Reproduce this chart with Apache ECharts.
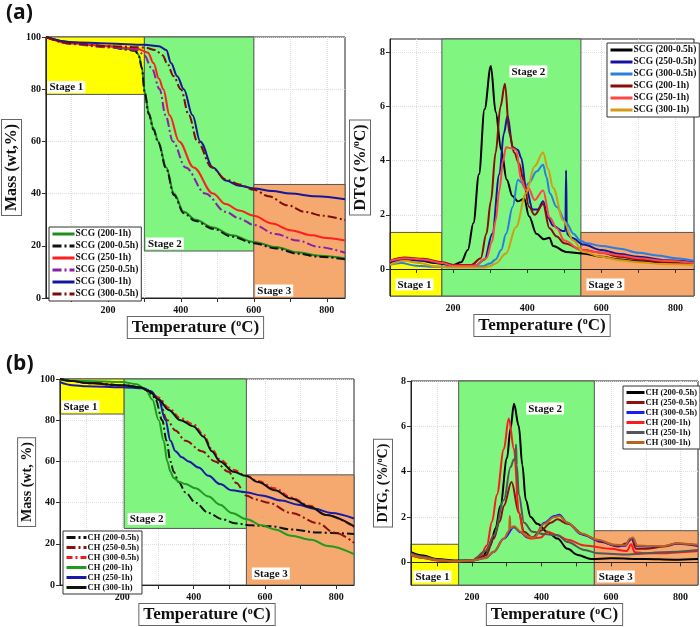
<!DOCTYPE html>
<html>
<head>
<meta charset="utf-8">
<script src="https://cdn.jsdelivr.net/npm/echarts@6/dist/echarts.min.js"></script>
<style>
  html, body { margin: 0; padding: 0; background: #fff; }
  #chart { width: 700px; height: 627px; }
</style>
</head>
<body>
<div id="chart"></div>
<script>
// ---- data: [temperature °C, value] ----
// (a) TGA, mass %
const aTga200_1h = [[30,100],[100,98],[150,97],[200,96.5],[250,95.5],[275,95],[285,93],[293,88.5],[301,79],[312,71],[325,65],[338,60],[360,50],[381,40],[408,33],[440,30],[488,27],[540,24],[600,21.5],[660,19.5],[720,17.5],[780,16.2],[850,15.2]];
const aTga200_05h = [[30,100],[100,97.8],[150,96.8],[200,96.3],[250,95.2],[275,94.7],[285,92.5],[293,88],[301,78.5],[312,70.5],[325,64.5],[338,59.5],[360,49.5],[381,39.5],[408,32.5],[440,29.5],[488,26.5],[540,23.5],[600,21],[660,19],[720,17],[780,15.8],[850,14.8]];
const aTga250_1h = [[30,100],[100,97.5],[200,96.5],[280,95.5],[310,94],[325,90],[340,84],[352,80],[369,70],[395,60],[435,50],[488,40],[523,36],[560,33.5],[600,31.5],[650,28.5],[700,26],[760,24],[800,23],[850,22]];
const aTga250_05h = [[30,100],[100,97.3],[200,96],[280,95],[300,93],[320,88],[342,80],[358,70],[378,60],[413,50],[467,40],[523,33],[560,30.5],[600,28],[660,24.5],[720,22],[780,19.5],[850,17.3]];
const aTga300_1h = [[30,100],[100,98],[200,97.5],[300,97],[340,96.5],[360,95],[373,90],[390,85],[408,80],[432,70],[453,60],[488,50],[523,45],[560,43],[600,42],[650,41],[700,40],[770,39],[850,37.8]];
const aTga300_05h = [[30,100],[100,97.5],[200,96.5],[300,96],[330,95],[350,93],[362,90],[380,85],[400,80],[422,70],[445,60],[485,50],[523,45.5],[560,43.5],[600,41.5],[640,39],[693,35.5],[740,33],[790,31.5],[850,29.8]];

// (a) DTG, %/°C
const aDtg200_05h = [[30,0.3],[60,0.38],[100,0.35],[150,0.22],[200,0.15],[222,0.25],[240,0.7],[255,1.7],[270,3.5],[285,5.9],[302,7.5],[315,5.8],[330,4.4],[345,3.3],[360,2.7],[375,2.5],[392,2.6],[405,1.95],[425,1.3],[445,1.1],[460,1.15],[470,0.85],[505,0.63],[550,0.57],[600,0.45],[650,0.35],[700,0.28],[770,0.22],[850,0.2]];
const aDtg250_05h = [[30,0.25],[70,0.35],[120,0.3],[170,0.2],[200,0.12],[260,0.12],[285,0.35],[306,1.3],[325,3.5],[337,5.0],[347,5.65],[361,4.5],[375,4.4],[384,4.1],[397,3.0],[415,2.2],[429,2.2],[443,2.5],[456,1.9],[470,1.6],[495,1.4],[503,1.4],[505,3.65],[507,1.3],[520,1.15],[552,0.9],[600,0.7],[650,0.55],[700,0.45],[775,0.32],[850,0.25]];
const aDtg300_05h = [[30,0.15],[60,0.22],[100,0.12],[150,0.08],[200,0.08],[280,0.1],[300,0.2],[315,0.35],[330,0.7],[343,1.3],[361,2.3],[375,3.3],[385,3.2],[393,3.0],[406,3.2],[425,3.6],[443,3.85],[452,3.4],[461,2.8],[479,2.3],[506,1.7],[525,1.3],[543,1.05],[560,0.95],[600,0.85],[650,0.75],[700,0.6],[750,0.5],[800,0.4],[850,0.3]];
const aDtg200_1h = [[30,0.3],[70,0.42],[120,0.38],[170,0.25],[200,0.15],[250,0.15],[275,0.4],[290,1.3],[302,2.5],[315,4.3],[328,6.0],[340,6.85],[352,5.0],[365,4.3],[378,3.9],[390,3.3],[405,2.3],[420,2.0],[443,2.4],[460,1.5],[480,1.2],[500,0.95],[550,0.7],[600,0.6],[650,0.45],[700,0.35],[770,0.25],[850,0.2]];
const aDtg250_1h = [[30,0.3],[70,0.4],[120,0.35],[170,0.22],[200,0.12],[260,0.12],[290,0.4],[305,1.0],[315,1.8],[325,2.9],[335,4.0],[343,4.5],[360,4.45],[370,4.4],[384,3.3],[397,2.9],[403,3.0],[420,2.55],[443,2.9],[461,1.9],[480,1.5],[500,1.05],[545,0.7],[600,0.6],[650,0.5],[700,0.4],[770,0.3],[850,0.22]];
const aDtg300_1h = [[30,0.15],[70,0.3],[110,0.22],[150,0.1],[200,0.05],[280,0.05],[300,0.1],[315,0.2],[343,0.57],[370,1.55],[397,2.8],[420,3.8],[443,4.3],[456,3.7],[470,3.0],[497,1.8],[524,1.05],[552,0.63],[600,0.45],[650,0.32],[700,0.25],[770,0.18],[850,0.15]];

// (b) TGA, mass %
const bTga200_05h = [[25,100],[60,99],[100,98.5],[200,97],[250,96],[270,94.5],[285,92],[293,90],[312,80],[324,70],[335,60],[344,55],[358,50],[377,45],[405,40],[442,35],[479,32],[516,30],[563,29],[619,28.5],[674,27],[749,25.5],[850,24.8]];
const bTga250_05h = [[25,100],[60,99],[100,98],[200,97],[250,96],[275,94],[302,90],[326,80],[349,75],[377,70],[423,65],[460,60],[498,55],[520,49.5],[547,43.5],[575,41.5],[609,40],[674,35],[749,30],[795,25.5],[850,20.5]];
const bTga300_05h = [[25,100],[60,99],[100,98],[200,97],[250,96],[275,94.5],[302,91],[330,86],[363,81],[400,78],[428,73],[451,66],[474,61],[512,56],[547,53],[581,50.5],[628,47],[674,42.5],[726,38.5],[772,34],[850,28]];
const bTga200_1h = [[25,99.5],[100,99],[200,98.5],[240,97.5],[265,95],[284,90],[302,80],[316,70],[326,60],[335,55],[344,52],[360,50],[377,49],[405,47],[442,43],[474,39],[507,35],[549,32],[591,29],[628,27],[674,24],[730,22],[777,19],[850,15]];
const bTga250_1h = [[25,98.5],[60,97],[100,96.5],[200,96],[260,95.5],[280,94],[302,90],[321,80],[335,70],[349,65],[367,62],[386,60],[414,57],[442,53],[474,49],[507,46],[547,45],[591,43.5],[647,41],[693,39],[740,37],[786,35],[850,32.3]];
const bTga300_1h = [[25,100],[60,99],[100,98],[200,97],[250,96],[275,94],[302,90],[330,85],[363,80],[400,77],[428,72],[451,65],[474,60],[512,55],[547,53],[581,50],[628,46],[674,42],[726,38],[772,34],[850,28.5]];

// (b) DTG, %/°C
const bDtg200_05h = [[25,0.45],[60,0.3],[100,0.15],[150,0.08],[200,0.08],[230,0.25],[253,0.75],[268,1.5],[282,2.5],[301,4.6],[311,5.9],[321,7.0],[335,6.0],[345,4.3],[355,2.75],[369,2.0],[388,1.7],[417,1.35],[446,1.05],[475,0.6],[504,0.33],[543,0.15],[600,0.18],[700,0.15],[780,0.12],[850,0.15]];
const bDtg250_05h = [[25,0.4],[60,0.25],[100,0.12],[150,0.05],[200,0.08],[240,0.3],[263,1.05],[280,1.8],[292,2.5],[314,3.55],[335,2.2],[350,1.35],[374,1.1],[398,1.4],[427,1.75],[446,1.9],[475,1.7],[524,1.2],[572,0.9],[620,0.7],[645,0.85],[659,1.05],[672,0.6],[700,0.6],[750,0.7],[790,0.82],[850,0.72]];
const bDtg300_05h = [[25,0.35],[60,0.2],[100,0.1],[150,0.05],[200,0.08],[240,0.2],[263,0.47],[292,1.05],[321,1.55],[340,1.33],[359,1.1],[379,1.1],[408,1.75],[437,2.05],[451,2.1],[475,1.75],[514,1.25],[562,0.97],[611,0.75],[640,0.72],[655,1.0],[663,1.05],[675,0.72],[712,0.7],[750,0.72],[789,0.83],[850,0.75]];
const bDtg200_1h = [[25,0.3],[60,0.2],[100,0.08],[150,0.05],[200,0.08],[225,0.3],[243,0.75],[258,1.8],[272,3.0],[292,5.0],[306,6.35],[321,5.0],[335,2.2],[350,1.2],[369,1.05],[398,1.1],[417,1.35],[446,1.2],[475,1.0],[524,0.75],[600,0.6],[645,0.5],[658,0.8],[668,0.45],[700,0.4],[750,0.4],[800,0.45],[850,0.5]];
const bDtg250_1h = [[25,0.4],[60,0.25],[100,0.12],[150,0.05],[200,0.08],[240,0.5],[263,1.2],[292,2.75],[311,4.2],[321,4.55],[325,4.5],[327,5.2],[329,4.3],[335,3.0],[350,1.75],[374,1.35],[408,1.25],[446,1.2],[475,0.9],[524,0.55],[562,0.4],[650,0.35],[750,0.45],[850,0.55]];
const bDtg300_1h = [[25,0.35],[60,0.2],[100,0.1],[150,0.05],[200,0.08],[240,0.2],[263,0.47],[292,1.05],[307,1.4],[309,2.05],[311,1.5],[321,1.6],[340,1.35],[359,1.15],[379,1.1],[408,1.7],[437,2.0],[451,2.05],[475,1.75],[514,1.28],[562,1.0],[611,0.78],[640,0.75],[655,1.05],[663,1.1],[675,0.75],[712,0.72],[750,0.72],[789,0.85],[850,0.78]];

// tick labels
const tempLabels = [200, 400, 600, 800];
const tempTicks = [100, 200, 300, 400, 500, 600, 700, 800];
const massLabels = [0, 20, 40, 60, 80, 100];
const dtgLabels = [0, 2, 4, 6, 8];

// stage boxes: [xFrom, xTo, yFrom, yTo]
const aTgaStages = [[30, 300, 78, 100], [300, 600, 18, 100], [600, 850, 0, 43.5]];
const aDtgStages = [[30, 170, -1, 1.35], [170, 545, -1, 8.5], [545, 850, -1, 1.35]];
const bTgaStages = [[25, 205, 83, 100], [205, 548, 27.5, 100], [548, 850, 0, 53.5]];
const bDtgStages = [[25, 162, -1, 0.8], [162, 552, -1, 8], [552, 850, -1, 1.4]];

const SERIF = '"Liberation Serif", "DejaVu Serif", serif';
const stageColors = ['#ffff00', '#80f580', '#f5a96e'];

const chart = echarts.init(document.getElementById('chart'), null, { renderer: 'canvas' });

function xAxisFor(gi, min, max, gap) {
  return {
    gridIndex: gi, type: 'value', min, max,
    axisLine: { show: true, lineStyle: { color: '#222', width: 1 } },
    axisTick: { customValues: tempTicks, length: 4, lineStyle: { color: '#333' } },
    axisLabel: { customValues: tempLabels, fontFamily: SERIF, fontWeight: 'bold', fontSize: 10, color: '#111', margin: 7 },
    splitLine: { show: true, lineStyle: { color: '#dcdcdc', type: 'dotted' } },
    name: '{t|Temperature (}{s|o}{t|C)}',
    nameLocation: 'middle', nameGap: gap,
    nameTextStyle: {
      borderColor: '#666', borderWidth: 1, padding: [2, 4, 1, 4], backgroundColor: '#fff',
      rich: {
        t: { fontFamily: SERIF, fontWeight: 'bold', fontSize: 17, color: '#111' },
        s: { fontFamily: SERIF, fontWeight: 'bold', fontSize: 10, color: '#111', verticalAlign: 'top', padding: [0, 0, 8, 0] }
      }
    }
  };
}

function yAxisFor(gi, min, max, ticks, labels, name, gap, size) {
  return {
    gridIndex: gi, type: 'value', min, max,
    axisLine: { show: true, lineStyle: { color: '#222', width: 1 } },
    axisTick: { customValues: ticks, length: 4, lineStyle: { color: '#333' } },
    axisLabel: { customValues: labels, fontFamily: SERIF, fontWeight: 'bold', fontSize: 10, color: '#111', margin: 5 },
    splitLine: { show: true, lineStyle: { color: '#dcdcdc', type: 'dotted' } },
    name, nameLocation: 'middle', nameGap: gap,
    nameTextStyle: {
      borderColor: '#666', borderWidth: 1, padding: [2, 4, 1, 4], backgroundColor: '#fff',
      rich: {
        t: { fontFamily: SERIF, fontWeight: 'bold', fontSize: size, color: '#111' },
        s: { fontFamily: SERIF, fontWeight: 'bold', fontSize: size * 0.6, color: '#111', verticalAlign: 'top', padding: [0, 0, 7, 0] }
      }
    }
  };
}

function stageArea(boxes, labelOpts) {
  return {
    silent: true,
    z: 0,
    data: boxes.map((b, i) => [
      {
        name: 'Stage ' + (i + 1), xAxis: b[0], yAxis: b[2],
        itemStyle: { color: stageColors[i], borderColor: '#555', borderWidth: 1, opacity: 1 },
        label: Object.assign({
          show: true, color: '#111', fontFamily: SERIF, fontWeight: 'bold', fontSize: 11,
          backgroundColor: '#fff', padding: [1, 2, 0, 2]
        }, labelOpts[i])
      },
      { xAxis: b[1], yAxis: b[3] }
    ])
  };
}

function line(name, data, color, gi, dash, width) {
  return {
    type: 'line', name, data, xAxisIndex: gi, yAxisIndex: gi,
    symbol: 'none', smooth: 0.35, smoothMonotone: 'x',
    lineStyle: { color, width: width || 2, type: dash || 'solid' },
    itemStyle: { color },
    emphasis: { disabled: true }, animation: false
  };
}

const dashDot = [9, 3, 2, 3];
const zw = '\u200b';

const series = [
  // (a) TGA
  line('SCG (200-1h)', aTga200_1h, '#1e8c1e', 0),
  line('SCG (200-0.5h)', aTga200_05h, '#111111', 0, dashDot),
  line('SCG (250-1h)', aTga250_1h, '#ff1f1f', 0),
  line('SCG (250-0.5h)', aTga250_05h, '#8a1fa8', 0, dashDot),
  line('SCG (300-1h)', aTga300_1h, '#16169a', 0),
  line('SCG (300-0.5h)', aTga300_05h, '#7a0c0c', 0, dashDot),
  // (a) DTG
  line('SCG (200-0.5h)' + zw, aDtg200_05h, '#000000', 1),
  line('SCG (250-0.5h)' + zw, aDtg250_05h, '#1414a0', 1),
  line('SCG (300-0.5h)' + zw, aDtg300_05h, '#2a7ee0', 1),
  line('SCG (200-1h)' + zw, aDtg200_1h, '#8b0a0a', 1),
  line('SCG (250-1h)' + zw, aDtg250_1h, '#ff4646', 1),
  line('SCG (300-1h)' + zw, aDtg300_1h, '#d49a12', 1),
  // (b) TGA
  line('CH (200-0.5h)', bTga200_05h, '#111111', 2, dashDot),
  line('CH (250-0.5h)', bTga250_05h, '#8b1010', 2, dashDot),
  line('CH (300-0.5h)', bTga300_05h, '#ee1c1c', 2, [6, 3, 2, 3]),
  line('CH (200-1h)', bTga200_1h, '#229a22', 2),
  line('CH (250-1h)', bTga250_1h, '#1a1aa8', 2),
  line('CH (300-1h)', bTga300_1h, '#111111', 2),
  // (b) DTG
  line('CH (200-0.5h)' + zw, bDtg200_05h, '#000000', 3),
  line('CH (250-0.5h)' + zw, bDtg250_05h, '#8b1010', 3),
  line('CH (300-0.5h)' + zw, bDtg300_05h, '#1a1aff', 3),
  line('CH (200-1h)' + zw, bDtg200_1h, '#ff1a1a', 3),
  line('CH (250-1h)' + zw, bDtg250_1h, '#555555', 3),
  line('CH (300-1h)' + zw, bDtg300_1h, '#b8621c', 3)
];

series[0].markArea = stageArea(aTgaStages, [
  { position: 'insideBottomLeft', distance: 2 },
  { position: 'insideBottomLeft', distance: 2 },
  { position: 'insideBottomLeft', distance: 2 }
]);
series[6].markArea = stageArea(aDtgStages, [
  { position: 'insideBottomLeft', distance: 6 },
  { position: 'insideTopLeft', distance: 0, offset: [68, 27] },
  { position: 'insideBottomLeft', distance: 6 }
]);
series[12].markArea = stageArea(bTgaStages, [
  { position: 'insideBottomLeft', distance: 2 },
  { position: 'insideBottomLeft', distance: 4 },
  { position: 'insideBottomLeft', distance: 6 }
]);
series[18].markArea = stageArea(bDtgStages, [
  { position: 'insideBottomLeft', distance: 3 },
  { position: 'insideTopLeft', distance: 0, offset: [68, 22] },
  { position: 'insideBottomLeft', distance: 3 }
]);

function legendFor(names, left, top, width, fontSize, gap) {
  return {
    data: names, left, top, orient: 'vertical', selectedMode: false,
    itemWidth: width, itemHeight: 6, itemGap: gap,
    itemStyle: { opacity: 0 },
    lineStyle: { width: 3 },
    backgroundColor: '#fff', borderColor: '#333', borderWidth: 1, borderRadius: 0,
    padding: [2, 3, 2, 2],
    textStyle: { fontFamily: SERIF, fontWeight: 'bold', fontSize, color: '#111', padding: [0, 0, 0, -4] }
  };
}

const option = {
  backgroundColor: '#fff',
  animation: false,
  title: [
    { text: '(a)', left: 1, top: -2, textStyle: { fontFamily: '"Open Sans", "Liberation Sans", sans-serif', fontWeight: 'bold', fontSize: 21, color: '#111' } },
    { text: '(b)', left: 1, top: 349, textStyle: { fontFamily: '"Open Sans", "Liberation Sans", sans-serif', fontWeight: 'bold', fontSize: 21, color: '#111' } }
  ],
  grid: [
    { left: 42, top: 37, width: 303, height: 261, show: true, borderColor: '#222', borderWidth: 1, backgroundColor: 'transparent' },
    { left: 390, top: 39, width: 304, height: 257, show: true, borderColor: '#222', borderWidth: 1, backgroundColor: 'transparent' },
    { left: 60, top: 379, width: 294, height: 212, show: true, borderColor: '#222', borderWidth: 1, backgroundColor: 'transparent' },
    { left: 411, top: 381, width: 287, height: 210, show: true, borderColor: '#222', borderWidth: 1, backgroundColor: 'transparent' }
  ],
  xAxis: [
    xAxisFor(0, 30, 850, 11),
    xAxisFor(1, 30, 850, 11),
    xAxisFor(2, 25, 850, 8),
    xAxisFor(3, 25, 850, 8)
  ],
  yAxis: [
    yAxisFor(0, 0, 100, massLabels, massLabels, '{t|Mass (wt,%)}', 22, 16),
    yAxisFor(1, -1, 8.5, dtgLabels, dtgLabels, '{t|DTG (%/}{s|o}{t|C)}', 20, 16),
    yAxisFor(2, 0, 100, massLabels, massLabels, '{t|Mass (wt, %)}', 24, 14),
    yAxisFor(3, -1, 8, dtgLabels, dtgLabels, '{t|DTG, (%/}{s|o}{t|C)}', 19, 14)
  ],
  legend: [
    legendFor(series.slice(0, 6).map(s => s.name), 49, 227, 22, 9.5, 2),
    legendFor(series.slice(6, 12).map(s => s.name), 607, 43, 22, 9.5, 2),
    legendFor(series.slice(12, 18).map(s => s.name), 63, 531, 20, 8.5, 1),
    legendFor(series.slice(18, 24).map(s => s.name), 623, 386, 18, 8.5, 1)
  ],
  series
};

chart.setOption(option);
window.addEventListener('resize', () => chart.resize());
</script>
</body>
</html>
